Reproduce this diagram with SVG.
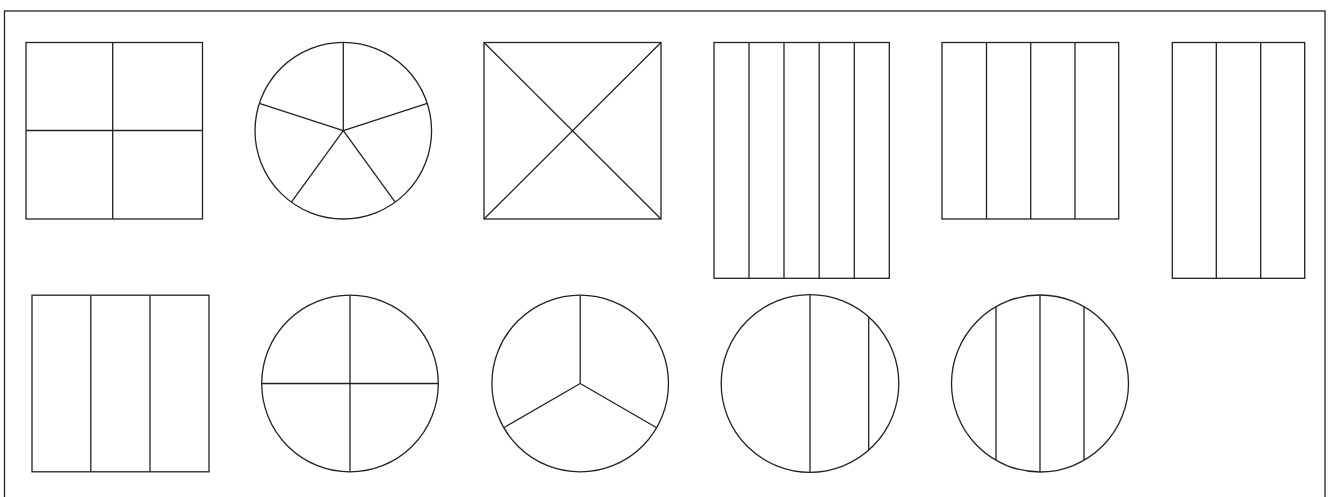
<svg xmlns="http://www.w3.org/2000/svg" width="1335" height="497" viewBox="0 0 1335 497">
<style>
.s{fill:none;stroke:#222;stroke-width:1.3}
</style>
<rect x="0" y="0" width="1335" height="497" fill="#fff"/>
<rect id="frame" class="s" x="4.5" y="11" width="1320.5" height="500"/>
<g id="sq4" class="s">
<rect x="26" y="42.5" width="176.5" height="176.5"/>
<line x1="112.7" y1="42.5" x2="112.7" y2="219"/>
<line x1="26" y1="130.5" x2="202.5" y2="130.5"/>
</g>
<g id="circ5" class="s">
<circle cx="343.3" cy="130.7" r="88.3"/>
<line x1="343.3" y1="130.7" x2="343.3" y2="42.4"/>
<line x1="343.3" y1="130.7" x2="427.3" y2="103.4"/>
<line x1="343.3" y1="130.7" x2="395.2" y2="202.1"/>
<line x1="343.3" y1="130.7" x2="291.4" y2="202.1"/>
<line x1="343.3" y1="130.7" x2="259.3" y2="103.4"/>
</g>
<g id="sqx" class="s">
<rect x="484" y="42.5" width="177" height="176.5"/>
<line x1="484" y1="42.5" x2="661" y2="219"/>
<line x1="661" y1="42.5" x2="484" y2="219"/>
</g>
<g id="rect5" class="s">
<rect x="714" y="42.5" width="175.3" height="235.8"/>
<line x1="749" y1="42.5" x2="749" y2="278.3"/>
<line x1="784" y1="42.5" x2="784" y2="278.3"/>
<line x1="819.2" y1="42.5" x2="819.2" y2="278.3"/>
<line x1="854.3" y1="42.5" x2="854.3" y2="278.3"/>
</g>
<g id="rect4" class="s">
<rect x="942" y="42.5" width="176.7" height="176.5"/>
<line x1="986.5" y1="42.5" x2="986.5" y2="219"/>
<line x1="1030.7" y1="42.5" x2="1030.7" y2="219"/>
<line x1="1075" y1="42.5" x2="1075" y2="219"/>
</g>
<g id="rect3a" class="s">
<rect x="1172.3" y="42.5" width="132.4" height="235.8"/>
<line x1="1216.3" y1="42.5" x2="1216.3" y2="278.3"/>
<line x1="1260.7" y1="42.5" x2="1260.7" y2="278.3"/>
</g>
<g id="rect3b" class="s">
<rect x="32" y="295.2" width="177" height="176.6"/>
<line x1="90.8" y1="295.2" x2="90.8" y2="471.8"/>
<line x1="150" y1="295.2" x2="150" y2="471.8"/>
</g>
<g id="circ4" class="s">
<circle cx="350" cy="383.5" r="88.3"/>
<line x1="350" y1="295.2" x2="350" y2="471.8"/>
<line x1="261.7" y1="383.5" x2="438.3" y2="383.5"/>
</g>
<g id="circ3" class="s">
<circle cx="580.2" cy="383.5" r="88.3"/>
<line x1="580.2" y1="383.5" x2="580.2" y2="295.2"/>
<line x1="580.2" y1="383.5" x2="656.7" y2="427.7"/>
<line x1="580.2" y1="383.5" x2="503.7" y2="427.7"/>
</g>
<g id="circv" class="s">
<circle cx="810" cy="383.5" r="88.8"/>
<line x1="810" y1="294.7" x2="810" y2="472.3"/>
<line x1="868.7" y1="316.9" x2="868.7" y2="450.1"/>
</g>
<g id="circv3" class="s">
<circle cx="1040" cy="383.5" r="88.5"/>
<line x1="996" y1="306.7" x2="996" y2="460.3"/>
<line x1="1040" y1="295" x2="1040" y2="472"/>
<line x1="1084" y1="306.7" x2="1084" y2="460.3"/>
</g>
</svg>
